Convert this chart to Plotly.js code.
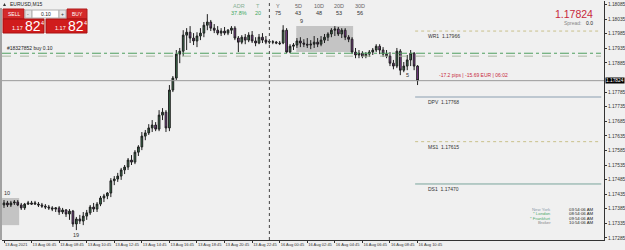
<!DOCTYPE html>
<html><head><meta charset="utf-8">
<script src="https://cdn.plot.ly/plotly-3.0.1.min.js"></script>
<style>html,body{margin:0;padding:0;background:#f0f0f0;overflow:hidden}#chart{width:625px;height:250px}</style>
</head><body><div id="chart"></div>
<script>
// ---- data (EURUSD M15, 13 Aug 04:45 -> 16 Aug 10:45) ----
const openP=[1.17398,1.17405,1.17398,1.17405,1.17408,1.17398,1.17388,1.17401,1.17405,1.17401,1.17401,1.17398,1.17394,1.17391,1.17388,1.17384,1.17388,1.17374,1.17381,1.17367,1.17377,1.17333,1.17350,1.17343,1.17360,1.17371,1.17391,1.17384,1.17401,1.17422,1.17429,1.17439,1.17481,1.17487,1.17497,1.17518,1.17528,1.17552,1.17545,1.17579,1.17597,1.17634,1.17645,1.17662,1.17672,1.17658,1.17706,1.17716,1.17662,1.17792,1.17833,1.17915,1.17925,1.17980,1.17990,1.17970,1.17960,1.17977,1.17987,1.18014,1.18025,1.18004,1.17997,1.17987,1.17994,1.17987,1.17997,1.18004,1.17970,1.17956,1.17973,1.17963,1.17980,1.17960,1.17953,1.17973,1.17963,1.17956,1.17956,1.17956,1.17953,1.17953,1.17997,1.17922,1.17942,1.17946,1.17960,1.17953,1.17949,1.17946,1.17949,1.17956,1.17949,1.17963,1.17973,1.17984,1.17997,1.18001,1.17984,1.17997,1.17973,1.17966,1.17922,1.17912,1.17918,1.17908,1.17915,1.17922,1.17929,1.17942,1.17929,1.17915,1.17908,1.17884,1.17874,1.17925,1.17860,1.17874,1.17895,1.17918,1.17874];
const highP=[1.17415,1.17412,1.17412,1.17415,1.17415,1.17405,1.17405,1.17412,1.17412,1.17412,1.17408,1.17405,1.17401,1.17398,1.17394,1.17391,1.17394,1.17388,1.17384,1.17384,1.17381,1.17357,1.17364,1.17374,1.17381,1.17398,1.17405,1.17408,1.17429,1.17436,1.17442,1.17490,1.17497,1.17508,1.17525,1.17535,1.17559,1.17569,1.17586,1.17603,1.17648,1.17655,1.17675,1.17689,1.17682,1.17723,1.17730,1.17723,1.17809,1.17840,1.17929,1.17936,1.17997,1.18004,1.18011,1.17987,1.17990,1.18004,1.18025,1.18052,1.18032,1.18018,1.18011,1.18004,1.18008,1.18001,1.18011,1.18011,1.17977,1.17980,1.17984,1.17990,1.17994,1.17973,1.17984,1.17987,1.17977,1.17963,1.17963,1.17960,1.17960,1.18014,1.18004,1.17949,1.17953,1.17970,1.17973,1.17966,1.17970,1.17963,1.17977,1.17970,1.17977,1.17984,1.17990,1.18004,1.18011,1.18008,1.18004,1.18004,1.17980,1.17973,1.17936,1.17929,1.17925,1.17922,1.17929,1.17936,1.17949,1.17949,1.17939,1.17929,1.17922,1.17895,1.17936,1.17932,1.17888,1.17912,1.17929,1.17922,1.17877];
const lowP=[1.17388,1.17391,1.17391,1.17398,1.17394,1.17381,1.17381,1.17398,1.17398,1.17398,1.17391,1.17388,1.17384,1.17381,1.17377,1.17374,1.17364,1.17367,1.17357,1.17347,1.17323,1.17312,1.17333,1.17329,1.17347,1.17364,1.17374,1.17374,1.17394,1.17408,1.17418,1.17425,1.17466,1.17477,1.17484,1.17504,1.17518,1.17535,1.17538,1.17566,1.17586,1.17620,1.17638,1.17648,1.17651,1.17651,1.17689,1.17648,1.17651,1.17785,1.17826,1.17884,1.17908,1.17929,1.17953,1.17946,1.17939,1.17963,1.17973,1.17997,1.17994,1.17987,1.17980,1.17977,1.17980,1.17980,1.17984,1.17963,1.17922,1.17949,1.17949,1.17956,1.17953,1.17942,1.17949,1.17953,1.17949,1.17949,1.17949,1.17949,1.17946,1.17949,1.17918,1.17918,1.17929,1.17936,1.17939,1.17939,1.17936,1.17932,1.17936,1.17939,1.17942,1.17953,1.17960,1.17973,1.17977,1.17977,1.17970,1.17963,1.17956,1.17915,1.17901,1.17901,1.17901,1.17901,1.17905,1.17912,1.17922,1.17915,1.17905,1.17901,1.17874,1.17863,1.17867,1.17843,1.17853,1.17860,1.17874,1.17860,1.17809];
const closeP=[1.17405,1.17398,1.17405,1.17408,1.17398,1.17388,1.17401,1.17405,1.17401,1.17405,1.17398,1.17394,1.17391,1.17388,1.17384,1.17388,1.17374,1.17381,1.17367,1.17377,1.17333,1.17350,1.17343,1.17360,1.17371,1.17391,1.17384,1.17401,1.17422,1.17429,1.17439,1.17481,1.17487,1.17497,1.17518,1.17528,1.17552,1.17545,1.17579,1.17597,1.17634,1.17645,1.17662,1.17672,1.17658,1.17706,1.17716,1.17662,1.17792,1.17833,1.17915,1.17925,1.17980,1.17990,1.17970,1.17960,1.17977,1.17987,1.18014,1.18025,1.18004,1.17997,1.17987,1.17994,1.17987,1.17997,1.18004,1.17970,1.17956,1.17973,1.17963,1.17980,1.17960,1.17953,1.17973,1.17963,1.17956,1.17958,1.17957,1.17953,1.17951,1.17997,1.17922,1.17942,1.17946,1.17960,1.17953,1.17949,1.17946,1.17949,1.17956,1.17949,1.17963,1.17973,1.17984,1.17997,1.18001,1.17984,1.17997,1.17973,1.17966,1.17922,1.17912,1.17918,1.17908,1.17915,1.17922,1.17929,1.17942,1.17929,1.17915,1.17908,1.17884,1.17874,1.17925,1.17860,1.17874,1.17895,1.17918,1.17874,1.17824];

const xTickIdx=[0,8,16,24,32,40,48,56,64,72,80,88,96,104,112,120];
const xTickText=['13 Aug 2021','13 Aug 06:45','13 Aug 08:45','13 Aug 10:45','13 Aug 12:45','13 Aug 14:45','13 Aug 16:45','13 Aug 18:45','13 Aug 20:45','13 Aug 22:45','16 Aug 00:45','16 Aug 02:45','16 Aug 04:45','16 Aug 06:45','16 Aug 08:45','16 Aug 10:45'];
const yTickVals=[1.18085,1.18035,1.17985,1.17935,1.17885,1.17785,1.17735,1.17685,1.17635,1.17585,1.17535,1.17485,1.17435,1.17385,1.17335,1.17285];
const bidPrice=1.17824;
const levelNames=['WR1','DPV','MS1','DS1'];
const levelValues=[1.17966,1.17768,1.17615,1.17470];
const levelDrawn=[1.17994,1.17768,1.17615,1.17470];
const orderPrice=1.17918, orderPrice2=1.17908;
const dayStartIdx=77;
const boxStart=[-0.9,84.8], boxEnd=[4.4,101.3], boxHigh=[1.17422,1.18011], boxLow=[1.17329,1.17922], boxCount=['10','9'];
const markIdx=[21,117], markText=['19','5'];
const statLabels=['ADR','T','Y','5D','10D','20D','30D'];
const statValues=['37.8%','20','75','43','48','53','56'];
const clockCities=['New York','* London','* Frankfurt','Broker'];
const clockTimes=['03:54:06 AM','08:54:06 AM','09:54:06 AM','10:54:06 AM'];
const plText='-17.2 pips | -15.69 EUR | 06:02';

// ---- layout helpers (pixel -> paper) ----
const L=2,R=604,T=1,B=240;
const px=x=>(x-L)/(R-L), py=y=>(B-y)/(B-T);
const FF='Liberation Sans, Arial, sans-serif';
const idx=openP.map((_,i)=>i);
const ann=[], shp=[];
function txt(x,y,text,size,color,xa,ya,extra){ann.push(Object.assign({xref:'paper',yref:'paper',x:px(x),y:py(y),text:text,showarrow:false,xanchor:xa||'center',yanchor:ya||'middle',font:{family:FF,size:size,color:color}},extra||{}));}
function rect(x0,y0,x1,y1,fill,line){shp.push({type:'rect',xref:'paper',yref:'paper',x0:px(x0),x1:px(x1),y0:py(y1),y1:py(y0),fillcolor:fill,line:{color:line||fill,width:1},layer:'above'});}

// boxes
boxStart.forEach((s,i)=>{
  shp.push({type:'rect',xref:'x',yref:'y',x0:s,x1:boxEnd[i],y0:boxLow[i],y1:boxHigh[i],fillcolor:'#c4c4c4',line:{width:0},layer:'below'});
  ann.push({xref:'x',yref:'y',x:s+0.4,y:boxHigh[i],text:boxCount[i],showarrow:false,xanchor:'left',yanchor:'bottom',font:{family:FF,size:5.5,color:'#333'}});
});
markIdx.forEach((k,i)=>ann.push({xref:'x',yref:'y',x:k,y:lowP[k],text:markText[i],showarrow:false,xanchor:'center',yanchor:'top',font:{family:FF,size:5.5,color:'#333'}}));
// day separator
shp.push({type:'line',xref:'x',yref:'paper',x0:dayStartIdx,x1:dayStartIdx,y0:0,y1:1,line:{color:'#444',width:1,dash:'dot'}});
// bid line
shp.push({type:'line',xref:'paper',yref:'y',x0:0,x1:1,y0:bidPrice,y1:bidPrice,line:{color:'#9a9a9a',width:1}});
// order lines
shp.push({type:'line',xref:'paper',yref:'y',x0:0,x1:0.995,y0:orderPrice,y1:orderPrice,line:{color:'#4f9f5f',width:1,dash:'dashdot'}});
shp.push({type:'line',xref:'paper',yref:'y',x0:0,x1:0.995,y0:orderPrice2,y1:orderPrice2,line:{color:'#a8b8a0',width:1,dash:'dash'}});
ann.push({xref:'paper',yref:'y',x:px(5),y:orderPrice,text:'#18327852 buy 0.10',showarrow:false,xanchor:'left',yanchor:'bottom',font:{family:FF,size:5,color:'#222'}});
// pivot levels
const lvlStyle=[{color:'#c9c08a',dash:'dot'},{color:'#8a9eb0',dash:'solid'},{color:'#c9c08a',dash:'dot'},{color:'#7aa59c',dash:'solid'}];
levelNames.forEach((n,i)=>{
  shp.push({type:'line',xref:'x',yref:'y',x0:119.3,x1:173.3,y0:levelDrawn[i],y1:levelDrawn[i],line:{color:lvlStyle[i].color,width:1,dash:lvlStyle[i].dash}});
  ann.push({xref:'x',yref:'y',x:122.5,y:levelDrawn[i],text:n+'  '+levelValues[i].toFixed(5),showarrow:false,xanchor:'left',yanchor:'top',font:{family:FF,size:5,color:'#333'}});
});
ann.push({xref:'x',yref:'y',x:125.6,y:bidPrice,yshift:1,text:plText,showarrow:false,xanchor:'left',yanchor:'bottom',font:{family:FF,size:5,color:'#c8283c'}});
// current price tag on axis
ann.push({xref:'paper',yref:'y',x:px(605),y:bidPrice,text:bidPrice.toFixed(5),showarrow:false,xanchor:'left',yanchor:'middle',bgcolor:'#000',borderpad:0,font:{family:FF,size:4.8,color:'#fff'}});
// header
txt(8,4,'EURUSD,M15',5,'#222','left','middle');
shp.push({type:'path',xref:'paper',yref:'paper',path:`M ${px(3)} ${py(6)} L ${px(6)} ${py(6)} L ${px(4.5)} ${py(3)} Z`,fillcolor:'#333',line:{width:0},layer:'above'});
const statX=[239,258,278,298,319,339,360];
const labCol=['#86b094','#86b094','#666','#666','#666','#666','#666'];
const valCol=['#3fa862','#3fa862','#333','#333','#333','#333','#333'];
statLabels.forEach((s,i)=>{txt(statX[i],6,s,5.5,labCol[i]);txt(statX[i],13,statValues[i],5.5,valCol[i]);});
// trading panel
rect(3,9,24,19,'#d42a2a','#b01c1c'); txt(13.5,14,'SELL',5,'#fff');
rect(25,10,32,18,'#e6e6e6','#b0b0b0'); txt(28.5,14,'-',5,'#333');
rect(32,10,59,18,'#ffffff','#b0b0b0'); txt(45.5,14,'0.10',5,'#222');
rect(59,10,66,18,'#e6e6e6','#b0b0b0'); txt(62.5,14,'+',5,'#333');
rect(67,9,87,19,'#d42a2a','#b01c1c'); txt(77,14,'BUY',5,'#fff');
rect(3,19,44,33,'#d01c1c','#a81010'); rect(46,19,87,33,'#d01c1c','#a81010');
[[3,0],[46,1]].forEach(([x0])=>{txt(x0+7,28,'1.17',5.5,'#fff','left');txt(x0+19.5,26.5,'82',14,'#fff','left');txt(x0+36,22.5,'4',5.5,'#fff','left');});
// top-right price
txt(595,13.5,bidPrice.toFixed(5),10.5,'#c8283c','right');
txt(584,22.5,'Spread:',5,'#888','right'); txt(595,22.5,'0.0',5,'#222','right');
// clocks
const cityCol=['#8a9aaa','#4aa86a','#4aa86a','#888'];
clockCities.forEach((c,i)=>{const y=209.5+i*4.3;txt(553,y,c,4.3,cityCol[i],'right');txt(567,y,clockTimes[i],4.3,'#222','left');});
// left border
shp.push({type:'line',xref:'paper',yref:'paper',x0:px(1),x1:px(1),y0:0,y1:py(8),line:{color:'#555',width:1},layer:'above'});

const trace={type:'candlestick',x:idx,open:openP,high:highP,low:lowP,close:closeP,
  increasing:{line:{color:'#1e1e1e',width:1},fillcolor:'#3d7650'},
  decreasing:{line:{color:'#1e1e1e',width:1},fillcolor:'#8a3d9c'},
  whiskerwidth:0,hoverinfo:'skip',showlegend:false};

const layout={width:625,height:250,margin:{l:L,r:625-R,t:T,b:250-B,pad:0},
  paper_bgcolor:'#f0f0f0',plot_bgcolor:'#f0f0f0',showlegend:false,
  xaxis:{type:'linear',range:[-0.58,174.1],tickvals:xTickIdx,ticktext:xTickText,ticks:'outside',ticklen:2,tickcolor:'#333',tickangle:0,
    ticklabelposition:'outside right',ticklabelstandoff:0,tickfont:{family:FF,size:4,color:'#333'},showgrid:false,zeroline:false,showline:true,linecolor:'#333',linewidth:1,
    rangeslider:{visible:false},automargin:false,fixedrange:true},
  yaxis:{side:'right',range:[1.17278,1.18097],tickvals:yTickVals,ticktext:yTickVals.map(v=>v.toFixed(5)),ticks:'outside',ticklen:2,tickcolor:'#333',
    ticklabelstandoff:0,tickfont:{family:FF,size:4.8,color:'#333'},showgrid:false,zeroline:false,showline:true,linecolor:'#333',linewidth:1,automargin:false,fixedrange:true},
  shapes:shp,annotations:ann};
Plotly.newPlot('chart',[trace],layout,{staticPlot:true,displayModeBar:false});
</script></body></html>
